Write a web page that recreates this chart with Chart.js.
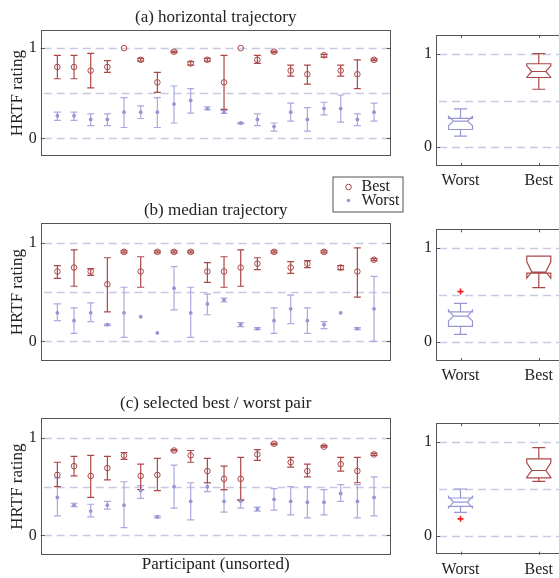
<!DOCTYPE html>
<html>
<head>
<meta charset="utf-8">
<script src="https://cdn.jsdelivr.net/npm/chart.js@4.4.1/dist/chart.umd.min.js"></script>
<style>
  html, body { margin: 0; padding: 0; background: #fff; overflow: hidden; width: 559px; height: 578px; }
  .panel { position: absolute; }
</style>
</head>
<body>
<div class="panel" style="left:0;top:0"><canvas id="trialA" width="410" height="170"></canvas></div>
<div class="panel" style="left:0;top:170px"><canvas id="trialB" width="410" height="205"></canvas></div>
<div class="panel" style="left:0;top:375px"><canvas id="trialC" width="410" height="203"></canvas></div>
<div class="panel" style="left:400px;top:0"><canvas id="boxA" width="170" height="190"></canvas></div>
<div class="panel" style="left:400px;top:190px"><canvas id="boxB" width="170" height="190"></canvas></div>
<div class="panel" style="left:400px;top:385px"><canvas id="boxC" width="170" height="193"></canvas></div>
<script>
// participants 1..20 (unsorted)
const participants = [1,2,3,4,5,6,7,8,9,10,11,12,13,14,15,16,17,18,19,20];

// (a) horizontal trajectory
const horizBest      = [0.79,0.79,0.75,0.79,1.00,0.87,0.62,0.96,0.83,0.87,0.62,1.00,0.87,0.96,0.75,0.71,0.92,0.75,0.71,0.87];
const horizBestLow   = [0.66,0.66,0.56,0.73,1.00,0.855,0.51,0.95,0.81,0.855,0.32,1.00,0.83,0.95,0.69,0.60,0.90,0.69,0.55,0.86];
const horizBestHigh  = [0.92,0.92,0.94,0.86,1.00,0.885,0.73,0.965,0.85,0.885,0.92,1.00,0.92,0.965,0.81,0.81,0.93,0.81,0.87,0.88];
const horizWorst     = [0.25,0.25,0.21,0.21,0.29,0.29,0.29,0.38,0.42,0.33,0.29,0.17,0.21,0.13,0.29,0.21,0.33,0.33,0.21,0.29];
const horizWorstLow  = [0.20,0.20,0.14,0.14,0.12,0.22,0.12,0.17,0.28,0.315,0.275,0.16,0.14,0.08,0.19,0.08,0.26,0.18,0.14,0.19];
const horizWorstHigh = [0.29,0.29,0.27,0.27,0.45,0.36,0.45,0.58,0.55,0.35,0.31,0.175,0.27,0.17,0.39,0.34,0.40,0.48,0.27,0.39];

// (b) median trajectory
const medBest      = [0.71,0.75,0.71,0.58,0.91,0.71,0.91,0.91,0.91,0.71,0.71,0.75,0.79,0.91,0.75,0.79,0.91,0.75,0.71,0.83];
const medBestLow   = [0.64,0.56,0.67,0.30,0.90,0.55,0.90,0.90,0.90,0.60,0.55,0.56,0.73,0.90,0.69,0.75,0.90,0.73,0.45,0.82];
const medBestHigh  = [0.77,0.93,0.74,0.85,0.92,0.86,0.92,0.92,0.92,0.80,0.86,0.93,0.85,0.92,0.81,0.82,0.92,0.77,0.95,0.84];
const medWorst     = [0.29,0.21,0.29,0.17,0.29,0.25,0.085,0.54,0.29,0.38,0.42,0.17,0.13,0.21,0.33,0.21,0.17,0.29,0.13,0.33];
const medWorstLow  = [0.21,0.08,0.20,0.16,0.04,0.25,0.085,0.32,0.04,0.27,0.40,0.15,0.12,0.08,0.18,0.08,0.13,0.29,0.12,0.00];
const medWorstHigh = [0.38,0.34,0.39,0.175,0.55,0.25,0.085,0.76,0.55,0.48,0.44,0.19,0.14,0.34,0.47,0.34,0.20,0.29,0.14,0.66];

// (c) selected best / worst pair
const pairBest      = [0.62,0.71,0.61,0.69,0.82,0.61,0.62,0.87,0.82,0.66,0.58,0.58,0.83,0.94,0.75,0.66,0.91,0.73,0.66,0.83];
const pairBestLow   = [0.50,0.61,0.39,0.57,0.78,0.47,0.46,0.865,0.75,0.54,0.47,0.36,0.77,0.93,0.70,0.60,0.905,0.66,0.54,0.82];
const pairBestHigh  = [0.75,0.81,0.82,0.81,0.85,0.73,0.79,0.88,0.87,0.79,0.71,0.80,0.88,0.945,0.80,0.73,0.92,0.80,0.80,0.84];
const pairWorst     = [0.39,0.31,0.25,0.31,0.31,0.46,0.19,0.50,0.35,0.50,0.35,0.35,0.27,0.37,0.35,0.34,0.34,0.43,0.35,0.39];
const pairWorstLow  = [0.20,0.295,0.19,0.27,0.08,0.38,0.18,0.28,0.16,0.45,0.24,0.28,0.25,0.26,0.21,0.18,0.21,0.35,0.18,0.20];
const pairWorstHigh = [0.59,0.33,0.32,0.35,0.55,0.51,0.20,0.72,0.54,0.54,0.47,0.37,0.29,0.48,0.50,0.50,0.47,0.52,0.52,0.60];

// box plots: [lower whisker, q1, median, q3, upper whisker], notch [low, high]
const boxGroups = ['Worst', 'Best'];
const horizWorstBox = [0.12, 0.19, 0.28, 0.31, 0.41];
const horizWorstNotch = [0.23, 0.33];
const horizBestBox = [0.62, 0.746, 0.81, 0.893, 1.0];
const horizBestNotch = [0.75, 0.87];
const medWorstBox = [0.083, 0.169, 0.276, 0.323, 0.413];
const medWorstNotch = [0.226, 0.34];
const medWorstOutliers = [0.538];
const medBestBox = [0.58, 0.735, 0.746, 0.914, 0.914];
const medBestNotch = [0.682, 0.854];
const pairWorstBox = [0.25, 0.314, 0.361, 0.404, 0.50];
const pairWorstNotch = [0.30, 0.42];
const pairWorstOutliers = [0.182];
const pairBestBox = [0.582, 0.618, 0.697, 0.822, 0.94];
const pairBestNotch = [0.625, 0.78];

const BEST = 'rgb(170,72,72)';
const WORST = 'rgb(150,150,212)';
const WORST_BAR = 'rgb(170,170,222)';
const GRID = 'rgb(200,200,226)';
const FRAME = '#555';
const TEXT = '#222';
const FONT = "'Liberation Serif', 'Times New Roman', serif";

function points(vals) {
  return vals.map((v, i) => ({ x: participants[i], y: v }));
}

const errorBars = {
  id: 'errorBars',
  beforeDatasetsDraw(chart) {
    const { ctx, scales: { x, y } } = chart;
    ctx.save();
    chart.data.datasets.forEach(ds => {
      if (!ds.errLow) return;
      ctx.strokeStyle = ds.barColor;
      ctx.lineWidth = 1.2;
      ds.data.forEach((p, j) => {
        const lo = ds.errLow[j], hi = ds.errHigh[j];
        if (hi - lo <= 0) return;
        const px = x.getPixelForValue(p.x);
        const yl = y.getPixelForValue(lo), yh = y.getPixelForValue(hi);
        ctx.beginPath();
        ctx.moveTo(px, yl); ctx.lineTo(px, yh);
        ctx.moveTo(px - 3.5, yl); ctx.lineTo(px + 3.5, yl);
        ctx.moveTo(px - 3.5, yh); ctx.lineTo(px + 3.5, yh);
        ctx.stroke();
      });
    });
    ctx.restore();
  }
};

const notchBoxes = {
  id: 'notchBoxes',
  beforeDatasetsDraw(chart) {
    const { ctx, scales: { x, y } } = chart;
    const Y = v => y.getPixelForValue(v);
    ctx.save();
    ctx.lineWidth = 1.2;
    chart.data.datasets.forEach(ds => {
      const [lo, q1, med, q3, hi] = ds.stats;
      const [nLo, nHi] = ds.notch;
      const cx = x.getPixelForValue(ds.group);
      const hw = 12, inset = 5, cap = 6.5;
      const L = cx - hw, R = cx + hw;
      ctx.strokeStyle = ds.boxColor;
      ctx.beginPath();
      if (hi > q3) {
        ctx.moveTo(cx, Y(q3)); ctx.lineTo(cx, Y(hi));
        ctx.moveTo(cx - cap, Y(hi)); ctx.lineTo(cx + cap, Y(hi));
      }
      if (lo < q1) {
        ctx.moveTo(cx, Y(q1)); ctx.lineTo(cx, Y(lo));
        ctx.moveTo(cx - cap, Y(lo)); ctx.lineTo(cx + cap, Y(lo));
      }
      ctx.stroke();
      ctx.beginPath();
      ctx.moveTo(L, Y(q1));
      ctx.lineTo(L, Y(nLo));
      ctx.lineTo(L + inset, Y(med));
      ctx.lineTo(L, Y(nHi));
      ctx.lineTo(L, Y(q3));
      ctx.lineTo(R, Y(q3));
      ctx.lineTo(R, Y(nHi));
      ctx.lineTo(R - inset, Y(med));
      ctx.lineTo(R, Y(nLo));
      ctx.lineTo(R, Y(q1));
      ctx.closePath();
      ctx.moveTo(L + inset, Y(med)); ctx.lineTo(R - inset, Y(med));
      ctx.stroke();
    });
    ctx.restore();
  }
};

const panelDecor = {
  id: 'panelDecor',
  beforeDatasetsDraw(chart) {
    const { ctx, chartArea: a, scales: { y } } = chart;
    ctx.save();
    ctx.strokeStyle = GRID;
    ctx.lineWidth = 1.3;
    ctx.setLineDash([8, 5]);
    [0, 0.5, 1].forEach(v => {
      const py = Math.round(y.getPixelForValue(v)) + 0.5;
      ctx.beginPath(); ctx.moveTo(a.left + 3, py); ctx.lineTo(a.right, py); ctx.stroke();
    });
    ctx.restore();
  },
  afterDraw(chart, args, opts) {
    const { ctx, chartArea: a, scales: { x, y } } = chart;
    ctx.save();
    ctx.strokeStyle = FRAME;
    ctx.lineWidth = 1;
    ctx.strokeRect(Math.round(a.left) + 0.5, Math.round(a.top) + 0.5,
      Math.round(a.right - a.left) - 1, Math.round(a.bottom - a.top) - 1);
    ctx.beginPath();
    [0, 1].forEach(v => {
      const py = Math.round(y.getPixelForValue(v)) + 0.5;
      ctx.moveTo(a.left, py); ctx.lineTo(a.left + 4, py);
      ctx.moveTo(a.right, py); ctx.lineTo(a.right - 4, py);
    });
    if (opts.xTicks) {
      x.ticks.forEach(t => {
        const px = Math.round(x.getPixelForValue(t.value)) + 0.5;
        ctx.moveTo(px, a.top); ctx.lineTo(px, a.top + 3);
        ctx.moveTo(px, a.bottom); ctx.lineTo(px, a.bottom - 3);
      });
    }
    ctx.stroke();
    ctx.fillStyle = TEXT;
    ctx.textAlign = 'center';
    ctx.textBaseline = 'alphabetic';
    const cx = (a.left + a.right) / 2;
    if (opts.title) {
      ctx.font = `17px ${FONT}`;
      ctx.fillText(opts.title, cx, opts.titleY);
    }
    if (opts.xTitle) {
      ctx.font = `17px ${FONT}`;
      ctx.fillText(opts.xTitle, cx, opts.xTitleY);
    }
    if (opts.legend) {
      // legend box between panels (a) and (b)
      const lx = opts.legendX, ly = opts.legendY;
      ctx.fillStyle = '#fff';
      ctx.fillRect(lx, ly, 70, 35);
      ctx.strokeStyle = FRAME;
      ctx.strokeRect(lx + 0.5, ly + 0.5, 70, 35);
      ctx.font = `16px ${FONT}`;
      ctx.textAlign = 'left';
      ctx.textBaseline = 'middle';
      ctx.fillStyle = TEXT;
      const best = chart.data.datasets[1], worst = chart.data.datasets[0];
      ctx.strokeStyle = BEST; ctx.lineWidth = 1;
      ctx.beginPath(); ctx.arc(lx + 16, ly + 10.5, 2.8, 0, Math.PI * 2); ctx.stroke();
      ctx.fillText(best.label, lx + 29, ly + 10.5);
      ctx.fillStyle = WORST;
      ctx.beginPath(); ctx.arc(lx + 16, ly + 24, 1.8, 0, Math.PI * 2); ctx.fill();
      ctx.fillStyle = TEXT;
      ctx.fillText(worst.label, lx + 29, ly + 24);
    }
    ctx.restore();
  }
};

function yScale(width, withTitle) {
  return {
    min: -0.2, max: 1.2,
    afterFit: s => { s.width = width; },
    afterBuildTicks: s => { s.ticks = [{ value: 0 }, { value: 1 }]; },
    grid: { display: false, drawTicks: false },
    border: { display: false },
    ticks: { font: { family: FONT, size: 16 }, color: TEXT, padding: 4 },
    title: { display: withTitle, text: 'HRTF rating', color: TEXT,
      font: { family: FONT, size: 17 }, padding: { top: 7, bottom: 0 } }
  };
}

function makeTrialChart(id, best, bestLow, bestHigh, worst, worstLow, worstHigh, deco) {
  return new Chart(document.getElementById(id), {
    type: 'scatter',
    data: {
      datasets: [
        { label: 'Worst', data: points(worst), errLow: worstLow, errHigh: worstHigh, barColor: WORST_BAR,
          pointStyle: 'circle', pointRadius: 1.9, pointBorderWidth: 0,
          backgroundColor: WORST, borderColor: WORST },
        { label: 'Best', data: points(best), errLow: bestLow, errHigh: bestHigh, barColor: BEST,
          pointStyle: 'circle', pointRadius: 2.8, pointBorderWidth: 1,
          backgroundColor: 'rgba(0,0,0,0)', borderColor: BEST }
      ]
    },
    options: {
      responsive: false, animation: false, devicePixelRatio: 1,
      layout: { autoPadding: false, padding: { left: 0, right: 19.3, top: deco.top, bottom: deco.bottom } },
      plugins: { legend: { display: false }, tooltip: { enabled: false }, panelDecor: deco },
      scales: {
        x: { type: 'linear', min: 0, max: 21, display: false },
        y: yScale(40.7, true)
      }
    },
    plugins: [panelDecor, errorBars]
  });
}

function makeBoxChart(id, worstBox, worstNotch, worstOut, bestBox, bestNotch, bestOut, top, axisH) {
  return new Chart(document.getElementById(id), {
    type: 'scatter',
    data: {
      datasets: [
        { label: boxGroups[0], group: 1, stats: worstBox, notch: worstNotch, boxColor: WORST,
          data: worstOut.map(v => ({ x: 1, y: v })) },
        { label: boxGroups[1], group: 2, stats: bestBox, notch: bestNotch, boxColor: BEST,
          data: bestOut.map(v => ({ x: 2, y: v })) }
      ]
    },
    options: {
      responsive: false, animation: false, devicePixelRatio: 1,
      elements: { point: { pointStyle: 'cross', radius: 3, borderWidth: 1.6, borderColor: 'rgb(240,30,30)' } },
      layout: { autoPadding: false, padding: { left: 0, right: 6.7, top: top, bottom: 0 } },
      plugins: { legend: { display: false }, tooltip: { enabled: false }, panelDecor: { xTicks: true } },
      scales: {
        x: {
          type: 'linear', min: 0.687, max: 2.313,
          afterFit: s => { s.height = axisH; },
          afterBuildTicks: s => { s.ticks = [{ value: 1 }, { value: 2 }]; },
          grid: { display: false, drawTicks: false },
          border: { display: false },
          ticks: { font: { family: FONT, size: 16 }, color: TEXT, padding: 5,
            callback: v => boxGroups[v - 1] }
        },
        y: yScale(36, false)
      }
    },
    plugins: [panelDecor, notchBoxes]
  });
}

makeTrialChart('trialA', horizBest, horizBestLow, horizBestHigh, horizWorst, horizWorstLow, horizWorstHigh,
  { top: 30, bottom: 3.3, title: '(a) horizontal trajectory', titleY: 22 });
makeTrialChart('trialB', medBest, medBestLow, medBestHigh, medWorst, medWorstLow, medWorstHigh,
  { top: 53.3, bottom: 14, title: '(b) median trajectory', titleY: 45, legend: true, legendX: 332.5, legendY: 6.5 });
makeTrialChart('trialC', pairBest, pairBestLow, pairBestHigh, pairWorst, pairWorstLow, pairWorstHigh,
  { top: 43.3, bottom: 23, title: '(c) selected best / worst pair', titleY: 33.3,
    xTitle: 'Participant (unsorted)', xTitleY: 194 });

makeBoxChart('boxA', horizWorstBox, horizWorstNotch, [], horizBestBox, horizBestNotch, [], 35, 24);
makeBoxChart('boxB', medWorstBox, medWorstNotch, medWorstOutliers, medBestBox, medBestNotch, [], 39.3, 19);
makeBoxChart('boxC', pairWorstBox, pairWorstNotch, pairWorstOutliers, pairBestBox, pairBestNotch, [], 38.3, 23.3);
</script>
</body>
</html>
